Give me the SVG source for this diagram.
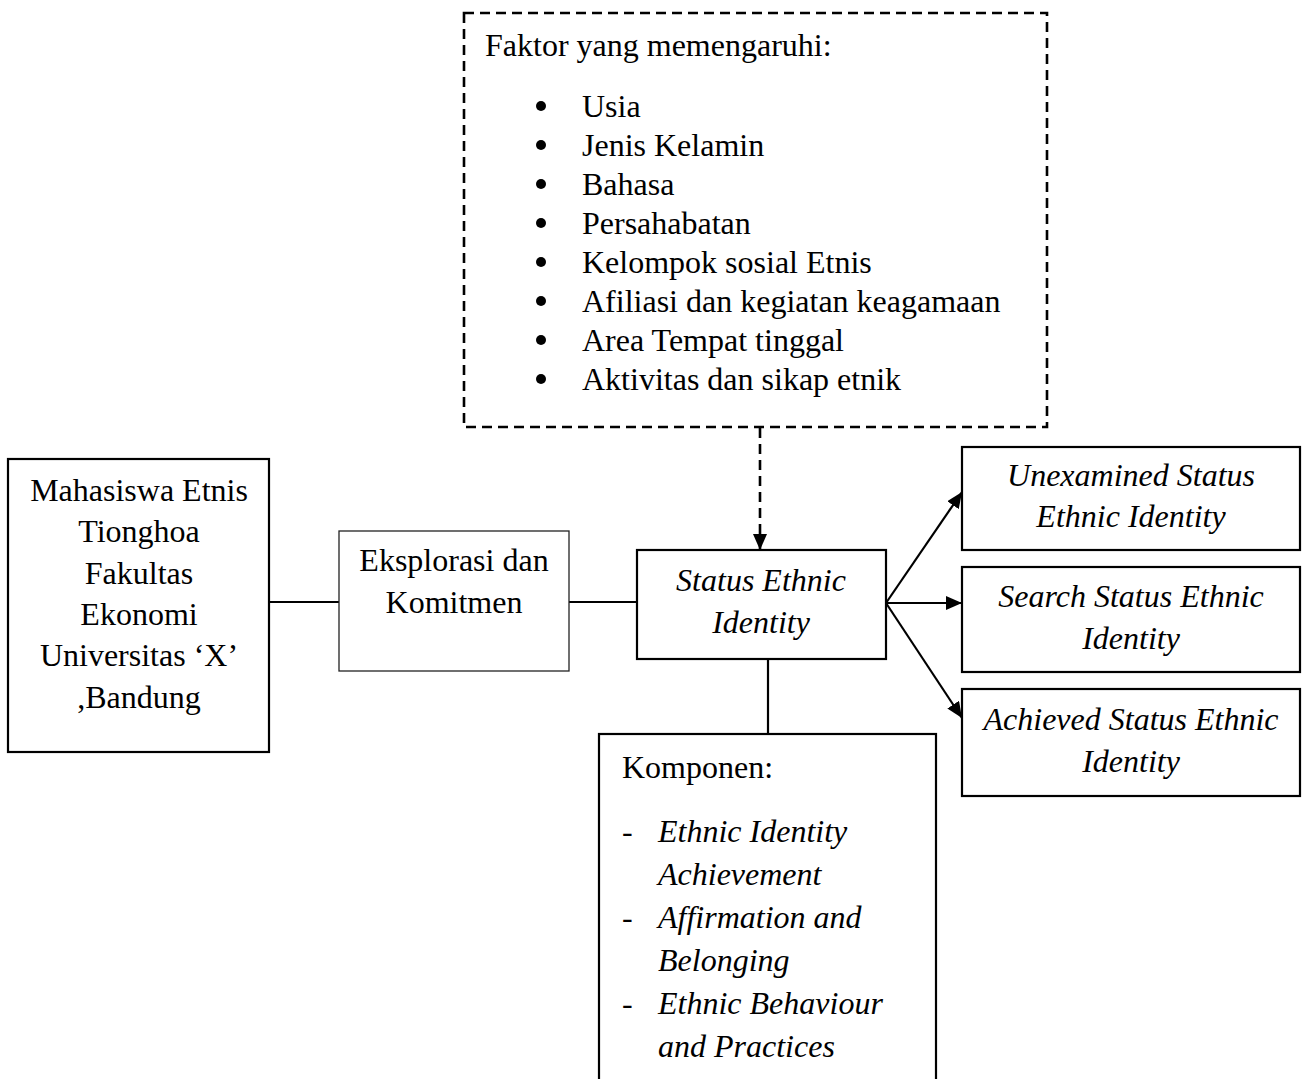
<svg xmlns="http://www.w3.org/2000/svg" width="1303" height="1079" viewBox="0 0 1303 1079">
<style>
text{font-family:"Liberation Serif","Times New Roman",serif;font-size:32px;fill:#000}
.c{text-anchor:middle}
.i{font-style:italic}
.box{fill:#fff;stroke:#000;stroke-width:2.2}
.thin{fill:#fff;stroke:#222;stroke-width:1.3}
.ln{stroke:#000;stroke-width:2.2;fill:none}
.dash{stroke:#000;stroke-width:2.6;fill:none;stroke-dasharray:10 6}
</style>
<defs>
<marker id="ah" markerUnits="userSpaceOnUse" markerWidth="18" markerHeight="14" refX="16" refY="7" orient="auto">
<path d="M0,0 L16,7 L0,14 Z" fill="#000"/>
</marker>
</defs>
<g id="connectors">
<line class="ln" x1="269" y1="602" x2="339" y2="602"/>
<line class="ln" x1="569" y1="602" x2="637" y2="602"/>
<line class="dash" x1="760" y1="428" x2="760" y2="550" marker-end="url(#ah)"/>
<line class="ln" x1="886" y1="603" x2="962" y2="492" marker-end="url(#ah)"/>
<line class="ln" x1="886" y1="603" x2="962" y2="603" marker-end="url(#ah)"/>
<line class="ln" x1="886" y1="603" x2="962" y2="718" marker-end="url(#ah)"/>
<line class="ln" x1="768" y1="659" x2="768" y2="734"/>
</g>
<g id="faktor">
<rect x="464" y="13" width="583" height="414" fill="#fff" class="dash"/>
<text x="485" y="56">Faktor yang memengaruhi:</text>
<g fill="#000">
<circle cx="541" cy="106" r="5"/><circle cx="541" cy="145" r="5"/><circle cx="541" cy="184" r="5"/><circle cx="541" cy="223" r="5"/>
<circle cx="541" cy="262" r="5"/><circle cx="541" cy="301" r="5"/><circle cx="541" cy="340" r="5"/><circle cx="541" cy="379" r="5"/>
</g>
<text x="582" y="117">Usia</text>
<text x="582" y="156">Jenis Kelamin</text>
<text x="582" y="195">Bahasa</text>
<text x="582" y="234">Persahabatan</text>
<text x="582" y="273">Kelompok sosial Etnis</text>
<text x="582" y="312">Afiliasi dan kegiatan keagamaan</text>
<text x="582" y="351">Area Tempat tinggal</text>
<text x="582" y="390">Aktivitas dan sikap etnik</text>
</g>
<g id="mahasiswa">
<rect class="box" x="8" y="459" width="261" height="293"/>
<text class="c" x="139" y="501">Mahasiswa Etnis</text>
<text class="c" x="139" y="542">Tionghoa</text>
<text class="c" x="139" y="584">Fakultas</text>
<text class="c" x="139" y="625">Ekonomi</text>
<text class="c" x="139" y="666">Universitas ‘X’</text>
<text class="c" x="139" y="708">,Bandung</text>
</g>
<g id="eksplorasi">
<rect class="thin" x="339" y="531" width="230" height="140"/>
<text class="c" x="454" y="571">Eksplorasi dan</text>
<text class="c" x="454" y="613">Komitmen</text>
</g>
<g id="status">
<rect class="box" x="637" y="550" width="249" height="109"/>
<text class="c i" x="761" y="591">Status Ethnic</text>
<text class="c i" x="761" y="633">Identity</text>
</g>
<g id="unexamined">
<rect class="box" x="962" y="447" width="338" height="103"/>
<text class="c i" x="1131" y="486">Unexamined Status</text>
<text class="c i" x="1131" y="527">Ethnic Identity</text>
</g>
<g id="search">
<rect class="box" x="962" y="567" width="338" height="105"/>
<text class="c i" x="1131" y="607">Search Status Ethnic</text>
<text class="c i" x="1131" y="649">Identity</text>
</g>
<g id="achieved">
<rect class="box" x="962" y="689" width="338" height="107"/>
<text class="c i" x="1131" y="730">Achieved Status Ethnic</text>
<text class="c i" x="1131" y="772">Identity</text>
</g>
<g id="komponen">
<rect class="box" x="599" y="734" width="337" height="360"/>
<text x="622" y="778">Komponen:</text>
<text x="622" y="842">-</text>
<text class="i" x="658" y="842">Ethnic Identity</text>
<text class="i" x="658" y="885">Achievement</text>
<text x="622" y="928">-</text>
<text class="i" x="658" y="928">Affirmation and</text>
<text class="i" x="658" y="971">Belonging</text>
<text x="622" y="1014">-</text>
<text class="i" x="658" y="1014">Ethnic Behaviour</text>
<text class="i" x="658" y="1057">and Practices</text>
</g>
</svg>
